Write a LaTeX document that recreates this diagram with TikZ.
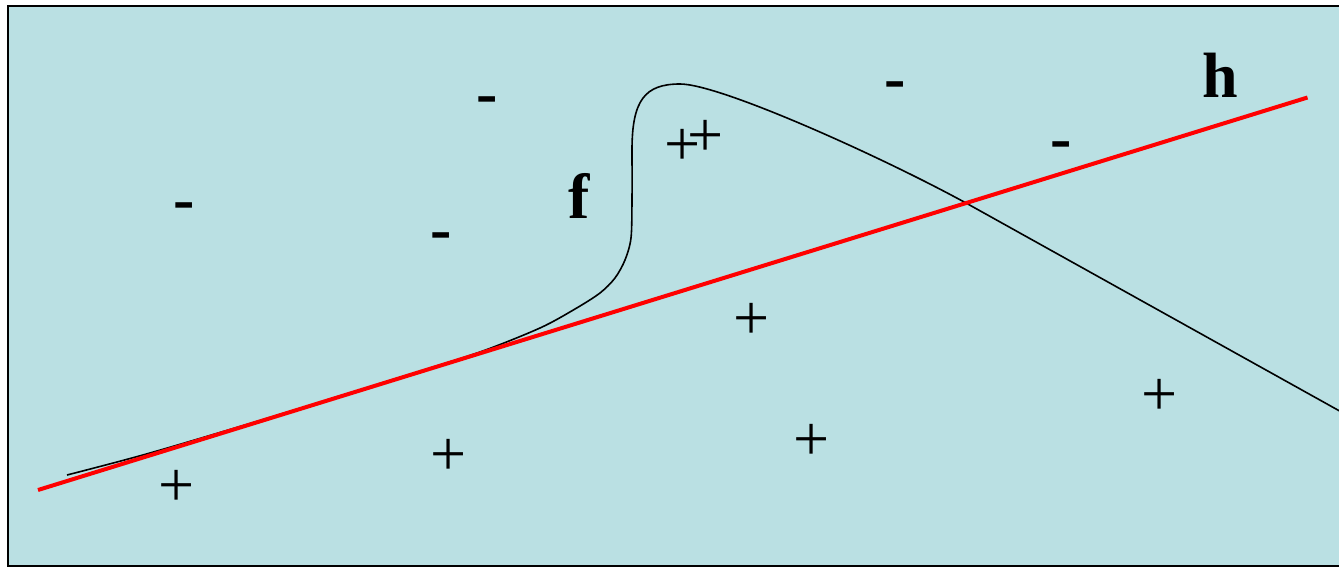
\documentclass[tikz,border=0pt]{standalone}
\usepackage{fontspec}
\setmainfont{Liberation Serif}
\definecolor{fundo}{RGB}{186,224,227}
\begin{document}
\begin{tikzpicture}[x=1pt, y=-1pt,
    mais/.style={font=\fontsize{64}{64}\selectfont, inner sep=0pt, anchor=base},
    menos/.style={font=\fontsize{64}{64}\selectfont\bfseries, inner sep=0pt, anchor=base},
    rotulo/.style={font=\fontsize{64}{64}\selectfont\bfseries, inner sep=0pt, anchor=base}]
\useasboundingbox (0,0) rectangle (1339,567);
\clip (0,0) rectangle (1339,567);
% Fundo
\filldraw[fill=fundo, line width=2pt] (7.5,6.5) rectangle (1360,566);
% Curva f
\coordinate (f0) at (67,475);
\coordinate (ftopo) at (680,84);
\coordinate (fx) at (966,203);
\coordinate (f1) at (1345,414);
\draw[line width=1.6pt] plot[smooth] coordinates {(f0) (150,453) (280,414.5) (400,377.5)
  (480,352) (540,328) (575,309) (600,293) (615,278) (625,260) (631,238) (632,200) (632,150)}
  .. controls (632,100) and (645,84) .. (ftopo)
  .. controls (720,84) and (880,156) .. (fx) -- (f1);
% Reta h
\coordinate (h0) at (38,490);
\coordinate (h1) at (1307.5,97.5);
\draw[red, line width=4pt] (h0) -- (h1);
% Exemplos positivos
\node[mais] (p1) at (176.5,506) {+};
\node[mais] (p2) at (449,475) {+};
\node[mais] (p3) at (683,166) {+};
\node[mais] (p4) at (706,157) {+};
\node[mais] (p5) at (751.5,339) {+};
\node[mais] (p6) at (812,460) {+};
\node[mais] (p7) at (1160,415) {+};
% Exemplos negativos
\node[menos] (n1) at (184.5,220.5) {-};
\node[menos] (n2) at (441.5,250.5) {-};
\node[menos] (n3) at (487.5,114.5) {-};
\node[menos] (n4) at (895.5,99.5) {-};
\node[menos] (n5) at (1061.5,159.5) {-};
% Rotulos
\node[rotulo] (f) at (579,218) {f};
\node[rotulo] (h) at (1220,98) {h};
\end{tikzpicture}
\end{document}
